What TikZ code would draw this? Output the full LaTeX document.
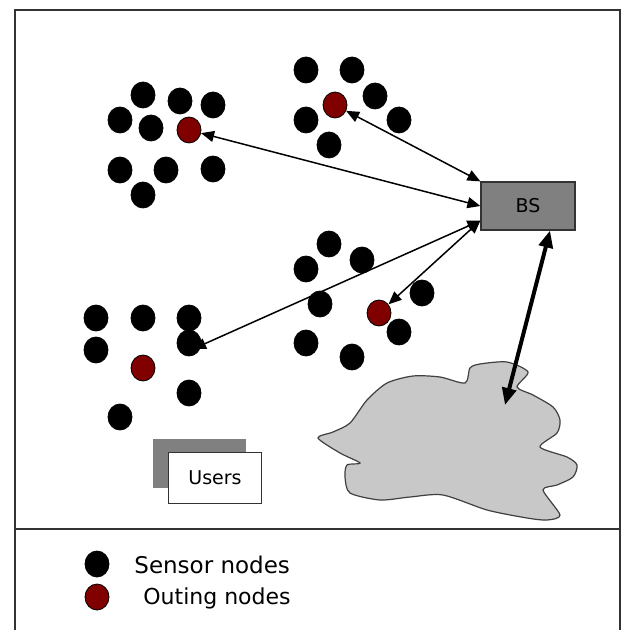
\documentclass[tikz,border=0pt]{standalone}
\usepackage{fontspec}
\setmainfont{DejaVu Sans}
\usetikzlibrary{arrows.meta,shapes.geometric}
\definecolor{outred}{HTML}{800000}
\definecolor{bsgray}{HTML}{808080}
\definecolor{cloudgray}{HTML}{C8C8C8}

\begin{document}
\begin{tikzpicture}[x=0.5pt,y=-0.5pt,
  sensor/.style={ellipse,draw=black,fill=black,inner sep=0pt,minimum width=12pt,minimum height=13pt},
  outing/.style={sensor,fill=outred},
  link/.style={{Triangle[length=6.5pt,width=5.5pt]}-{Triangle[length=6.5pt,width=5.5pt]},line width=0.75pt},
  biglink/.style={{Triangle[length=8.5pt,width=7pt]}-{Triangle[length=8.5pt,width=7pt]},line width=2pt},
  box/.style={draw=black!80,line width=0.6pt,inner sep=0pt,font=\fontsize{9.5}{10}\selectfont}]
\useasboundingbox (0,0) rectangle (621,630);
% frame
\draw[black!80,line width=1pt] (15,630) -- (15,10) -- (620,10) -- (620,630);
\draw[black!80,line width=1pt] (15,529) -- (620,529);
% clusters
\foreach \p [count=\i] in {(143,95),(180,101),(213,105),(120,120),(151,128),
    (120,170),(166,170),(213,169),(143,195),
    (306,70),(352,70),(375,96),(306,120),(399,120),(329,145),
    (329,244),(362,260),(306,269),(422,293),(320,304),(399,332),(306,343),(352,357),
    (96,318),(143,318),(189,318),(96,350),(189,393),(120,417)}
  \node[sensor] (s\i) at \p {};
\node[sensor] (g4) at (189,343) {};
\node[outing] (o1) at (189,130) {};
\node[outing] (o2) at (335,105) {};
\node[outing] (o3) at (379,313) {};
\node[outing] (o4) at (143,368) {};
% base station
\node[box,fill=bsgray,minimum width=47pt,minimum height=24pt] (bs) at (528,206) {\raisebox{-2pt}{BS}};
\coordinate (bsin) at ([yshift=5pt]bs.south west);
% users
\node[fill=bsgray,minimum width=46.5pt,minimum height=24.5pt] (ushadow) at (199,463) {};
\node[box,fill=white,minimum width=46.5pt,minimum height=25.5pt] (users) at (215,478) {Users};
% network cloud
\draw[draw=black!75,fill=cloudgray,line width=0.6pt] plot[smooth cycle,tension=0.45] coordinates {
  (318,438) (333,432) (350,423) (367,400) (387,383) (413,376) (440,377) (465,383)
  (470,368) (480,364) (507,362) (528,372) (517,387) (533,395) (553,407) (560,420)
  (557,433) (540,447) (567,457) (577,465) (573,477) (557,485) (543,490) (560,515)
  (547,520) (527,518) (487,510) (443,495) (410,497) (380,500) (350,493) (345,477)
  (347,465) (360,463) (340,453)};
\coordinate (net) at (505,405);
\coordinate (g4in) at ([xshift=2pt,yshift=-3pt]g4.center);
% links
\draw[link] (o1) -- (bs.west);
\draw[link] (o2) -- (bs.north west);
\draw[link] (g4in) -- (bsin);
\draw[link] (o3) -- (bsin);
\draw[biglink] ([xshift=11pt]bs.south) -- (net);
% legend
\node[sensor] (lsensor) at (97,564) {};
\node[outing] (louting) at (97,597) {};
\node[anchor=west,inner sep=0pt,font=\fontsize{11.5}{12}\selectfont] (tsensor) at (134,565) {Sensor nodes};
\node[anchor=west,inner sep=0pt,font=\fontsize{11}{12}\selectfont] (touting) at (143,598) {Outing nodes};
\end{tikzpicture}
\end{document}
